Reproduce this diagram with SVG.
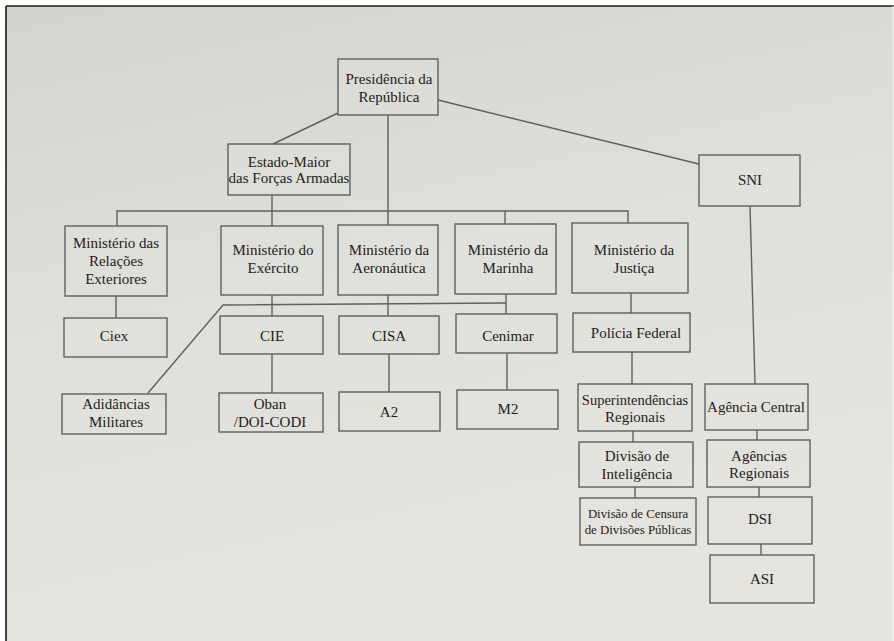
<svg xmlns="http://www.w3.org/2000/svg" width="894" height="641" viewBox="0 0 894 641">
<defs>
<linearGradient id="bg" x1="0" y1="0" x2="0.3" y2="1">
<stop offset="0" stop-color="#d3d4cf"/>
<stop offset="0.5" stop-color="#dfe0db"/>
<stop offset="1" stop-color="#e6e4df"/>
</linearGradient>
<style>
.b{fill:#e2e3de;fill-opacity:0.35;stroke:#5b6262;stroke-width:1.4}
.t{font-family:'Liberation Serif','DejaVu Serif',serif;font-size:15px;fill:#1e2222;text-anchor:middle}
.s{font-size:12.8px}
.c{fill:none;stroke:#5b6262;stroke-width:1.4}
</style>
</defs>
<rect x="0" y="0" width="894" height="641" fill="#ffffff"/>
<rect x="6" y="6" width="888" height="635" fill="url(#bg)"/>
<line x1="6" y1="6" x2="894" y2="6" stroke="#1a1a1a" stroke-width="1.6"/>
<line x1="6" y1="6" x2="6" y2="641" stroke="#1a1a1a" stroke-width="1.6"/>
<line x1="893" y1="6" x2="893" y2="641" stroke="#f2f2f0" stroke-width="1"/>

<g id="connectors" class="c">
<line x1="338" y1="113" x2="273" y2="144"/>
<line x1="438" y1="100" x2="699" y2="164"/>
<line x1="388" y1="115" x2="388" y2="225"/>
<polyline points="117,226 117,211 628,211 628,223"/>
<line x1="272" y1="195" x2="272" y2="226"/>
<line x1="505" y1="211" x2="505" y2="224"/>
<line x1="116" y1="296" x2="116" y2="318"/>
<line x1="272" y1="295" x2="272" y2="316"/>
<line x1="388" y1="295" x2="388" y2="316"/>
<line x1="506" y1="294" x2="506" y2="314"/>
<line x1="631" y1="293" x2="631" y2="313"/>
<polyline points="148,393 223,305 506,303"/>
<line x1="272" y1="354" x2="272" y2="393"/>
<line x1="389" y1="354" x2="389" y2="392"/>
<line x1="507" y1="353" x2="507" y2="390"/>
<line x1="632" y1="352" x2="632" y2="384"/>
<line x1="633" y1="431" x2="633" y2="442"/>
<line x1="635" y1="487" x2="635" y2="498"/>
<line x1="750" y1="206" x2="755" y2="384"/>
<line x1="757" y1="430" x2="757" y2="440"/>
<line x1="759" y1="487" x2="759" y2="497"/>
<line x1="761" y1="544" x2="761" y2="555"/>
</g>

<g font-family="Liberation Serif, DejaVu Serif, serif">
<g id="presidencia"><rect class="b" x="338" y="59" width="100" height="56"/>
<text class="t" x="389" y="84">Presidência da</text><text class="t" x="389" y="102">República</text></g>
<g id="estado-maior"><rect class="b" x="228" y="144" width="122" height="51"/>
<text class="t" x="289" y="167">Estado-Maior</text><text class="t" x="289" y="183">das Forças Armadas</text></g>
<g id="sni"><rect class="b" x="699" y="155" width="101" height="51"/>
<text class="t" x="750" y="185">SNI</text></g>

<g id="min-relacoes"><rect class="b" x="65" y="226" width="102" height="70"/>
<text class="t" x="116" y="248">Ministério das</text><text class="t" x="116" y="266">Relações</text><text class="t" x="116" y="284">Exteriores</text></g>
<g id="min-exercito"><rect class="b" x="221" y="226" width="102" height="69"/>
<text class="t" x="273" y="255">Ministério do</text><text class="t" x="273" y="273">Exército</text></g>
<g id="min-aeronautica"><rect class="b" x="338" y="225" width="100" height="70"/>
<text class="t" x="389" y="255">Ministério da</text><text class="t" x="389" y="273">Aeronáutica</text></g>
<g id="min-marinha"><rect class="b" x="455" y="224" width="101" height="70"/>
<text class="t" x="508" y="255">Ministério da</text><text class="t" x="508" y="273">Marinha</text></g>
<g id="min-justica"><rect class="b" x="572" y="223" width="116" height="70"/>
<text class="t" x="634" y="255">Ministério da</text><text class="t" x="634" y="273">Justiça</text></g>

<g id="ciex"><rect class="b" x="64" y="318" width="103" height="39"/>
<text class="t" x="114" y="341">Ciex</text></g>
<g id="cie"><rect class="b" x="220" y="316" width="103" height="38"/>
<text class="t" x="272" y="341">CIE</text></g>
<g id="cisa"><rect class="b" x="339" y="316" width="100" height="38"/>
<text class="t" x="389" y="341">CISA</text></g>
<g id="cenimar"><rect class="b" x="456" y="314" width="101" height="39"/>
<text class="t" x="508" y="341">Cenimar</text></g>
<g id="policia-federal"><rect class="b" x="573" y="313" width="117" height="39"/>
<text class="t" x="636" y="338">Polícia Federal</text></g>

<g id="adidancias"><rect class="b" x="62" y="394" width="104" height="40"/>
<text class="t" x="116" y="409">Adidâncias</text><text class="t" x="116" y="427">Militares</text></g>
<g id="oban"><rect class="b" x="219" y="393" width="104" height="39"/>
<text class="t" x="270" y="409">Oban</text><text class="t" x="270" y="427">/DOI-CODI</text></g>
<g id="a2"><rect class="b" x="339" y="392" width="101" height="39"/>
<text class="t" x="389" y="417">A2</text></g>
<g id="m2"><rect class="b" x="457" y="390" width="101" height="39"/>
<text class="t" x="508" y="414">M2</text></g>

<g id="superintendencias"><rect class="b" x="578" y="384" width="114" height="47"/>
<text class="t" x="635" y="405" style="font-size:14.5px">Superintendências</text><text class="t" x="635" y="422">Regionais</text></g>
<g id="divisao-inteligencia"><rect class="b" x="579" y="442" width="114" height="45"/>
<text class="t" x="637" y="461">Divisão de</text><text class="t" x="637" y="479">Inteligência</text></g>
<g id="divisao-censura"><rect class="b" x="580" y="498" width="116" height="47"/>
<text class="t s" x="638" y="518">Divisão de Censura</text><text class="t s" x="638" y="534">de Divisões Públicas</text></g>

<g id="agencia-central"><rect class="b" x="705" y="384" width="103" height="46"/>
<text class="t" x="756" y="412">Agência Central</text></g>
<g id="agencias-regionais"><rect class="b" x="707" y="440" width="103" height="47"/>
<text class="t" x="759" y="461">Agências</text><text class="t" x="759" y="478">Regionais</text></g>
<g id="dsi"><rect class="b" x="708" y="497" width="104" height="47"/>
<text class="t" x="760" y="524">DSI</text></g>
<g id="asi"><rect class="b" x="710" y="555" width="104" height="48"/>
<text class="t" x="762" y="584">ASI</text></g>
</g>
</svg>
